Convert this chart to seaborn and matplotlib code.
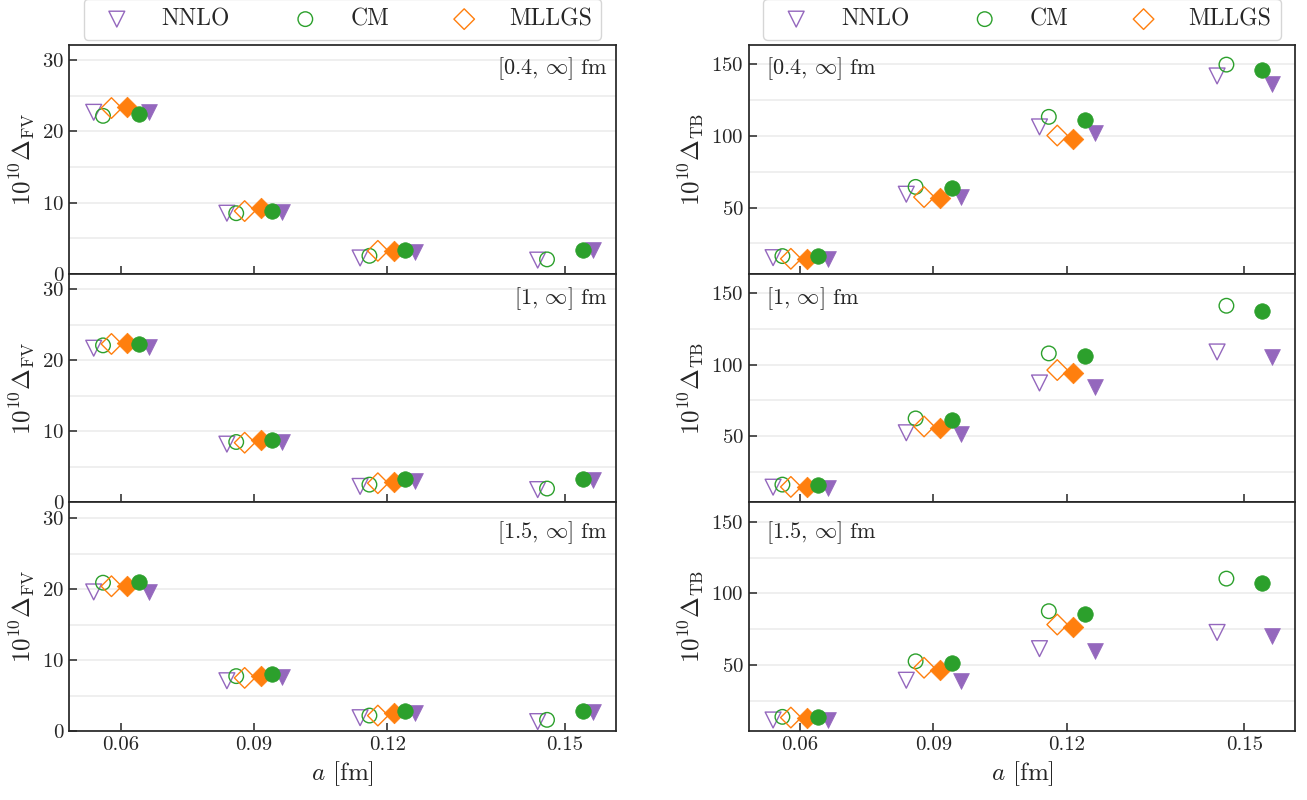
import numpy as np
import pandas as pd
import seaborn as sns
import matplotlib.pyplot as plt

# cluster positions on the a axis and their tick labels
a_pos = [0.06, 0.09, 0.12, 0.16]
a_labels = ["0.06", "0.09", "0.12", "0.15"]
range_labels = [r"[0.4, $\infty$] fm", r"[1, $\infty$] fm", r"[1.5, $\infty$] fm"]

nan = np.nan
# rows: [0.4, inf], [1, inf], [1.5, inf] ; columns: a clusters
fv_nnlo_open = [[22.7, 8.5, 2.2, 1.9], [21.7, 8.2, 2.25, 1.8], [19.6, 7.1, 1.9, 1.35]]
fv_cm_open = [[22.2, 8.5, 2.5, 2.0], [22.1, 8.5, 2.5, 1.95], [20.9, 7.75, 2.2, 1.6]]
fv_mllgs_open = [[23.3, 8.8, 3.2, nan], [22.3, 8.4, 2.7, nan], [20.4, 7.5, 2.2, nan]]
fv_mllgs_fill = [[23.5, 9.3, 3.2, nan], [22.4, 8.8, 2.9, nan], [20.4, 7.8, 2.5, nan]]
fv_cm_fill = [[22.4, 8.8, 3.3, 3.3], [22.3, 8.8, 3.3, 3.3], [21.0, 8.1, 2.9, 2.9]]
fv_nnlo_fill = [[22.7, 8.7, 3.0, 3.3], [21.8, 8.5, 3.0, 3.2], [19.6, 7.6, 2.6, 2.7]]

tb_nnlo_open = [[15.1, 59.3, 106.2, 141.7], [14.6, 52.5, 87.2, 108.8], [11.8, 39.5, 61.5, 72.8]]
tb_cm_open = [[16.2, 64.4, 113.2, 149.6], [16.4, 62.5, 107.8, 141.0], [14.0, 52.7, 87.6, 110.3]]
tb_mllgs_open = [[14.3, 57.3, 100.2, nan], [14.8, 56.9, 96.2, nan], [13.5, 48.2, 78.3, nan]]
tb_mllgs_fill = [[14.3, 56.9, 98.0, nan], [14.8, 56.1, 94.2, nan], [13.1, 46.8, 76.6, nan]]
tb_cm_fill = [[16.3, 63.3, 110.7, 146.0], [16.2, 61.6, 105.9, 137.6], [13.8, 51.8, 85.5, 107.5]]
tb_nnlo_fill = [[14.3, 57.4, 101.8, 135.8], [14.0, 51.5, 84.6, 105.3], [12.0, 38.7, 59.8, 70.5]]

purple, green, orange = "#9467bd", "#2ca02c", "#ff7f0e"

sns.set_style("ticks")
plt.rcParams["font.family"] = "serif"
plt.rcParams["font.serif"] = ["cmr10"]
plt.rcParams["mathtext.fontset"] = "cm"
plt.rcParams["axes.formatter.use_mathtext"] = True
plt.rcParams["axes.unicode_minus"] = False

# (label, marker, color, filled, x offset, size)
styles = [
    ("NNLO", "v", purple, False, -0.0061, 130),
    ("CM", "o", green, False, -0.0040, 110),
    ("MLLGS", "D", orange, False, -0.0021, 110),
    (None, "v", purple, True, 0.0063, 130),
    (None, "D", orange, True, 0.0015, 110),
    (None, "o", green, True, 0.0041, 125),
]
fv_sets = [fv_nnlo_open, fv_cm_open, fv_mllgs_open, fv_nnlo_fill, fv_mllgs_fill, fv_cm_fill]
tb_sets = [tb_nnlo_open, tb_cm_open, tb_mllgs_open, tb_nnlo_fill, tb_mllgs_fill, tb_cm_fill]

fig, axes = plt.subplots(3, 2, figsize=(13.07, 8), dpi=100, sharex=True, sharey="col")
fig.subplots_adjust(left=0.053, right=0.991, top=0.944, bottom=0.086, wspace=0.243, hspace=0)

for col, (sets, ylab) in enumerate([(fv_sets, r"$10^{10}\Delta_{\mathrm{FV}}$"),
                                     (tb_sets, r"$10^{10}\Delta_{\mathrm{TB}}$")]):
    for row in range(3):
        ax = axes[row, col]
        for (lab, mk, c, filled, dx, s), vals in zip(styles, sets):
            df = pd.DataFrame({"a": np.array(a_pos) + dx, "y": vals[row]})
            if filled:
                sns.scatterplot(data=df, x="a", y="y", ax=ax, marker=mk, s=s,
                                color=c, edgecolor=c, linewidth=0.5, zorder=3)
            else:
                sns.scatterplot(data=df, x="a", y="y", ax=ax, marker=mk, s=s,
                                facecolors="none", edgecolor=c, linewidth=1.0,
                                label=lab, zorder=3)
        if ax.get_legend() is not None:
            ax.get_legend().remove()

        ax.set_ylabel(ylab, fontsize=18)
        ax.set_xlabel("")
        if col == 0:
            ax.set_ylim(0, 32.2)
            ax.set_yticks([0, 10, 20, 30])
            ax.set_yticks(np.arange(0, 35, 5), minor=True)
            ax.text(0.985, [0.955, 0.948, 0.925][row], range_labels[row], transform=ax.transAxes,
                    ha="right", va="top", fontsize=16)
        else:
            ax.set_ylim(4, 163.4)
            ax.set_yticks([50, 100, 150])
            ax.set_yticks(np.arange(25, 175, 25), minor=True)
            ax.text(0.032, [0.955, 0.948, 0.925][row], range_labels[row], transform=ax.transAxes,
                    ha="left", va="top", fontsize=16)
        ax.set_xlim(0.0484, 0.1715)
        ax.set_xticks(a_pos)
        ax.set_xticklabels(a_labels)
        ax.yaxis.grid(True, which="both", color="#ececec", lw=1.2, zorder=0)
        ax.set_axisbelow(True)
        ax.tick_params(which="major", direction="in", length=5.5, width=1.1,
                       labelsize=15, colors="#262626")
        ax.tick_params(which="minor", length=0)
        for sp in ax.spines.values():
            sp.set_visible(True)
            sp.set_linewidth(1.25)
            sp.set_color("#262626")

    axes[2, col].set_xlabel(r"$a$ [fm]", fontsize=18)
    h, l = axes[0, col].get_legend_handles_labels()
    axes[0, col].legend(h, l, loc="lower left", bbox_to_anchor=(0.0265, 1.022, 0.947, 0.2),
                        mode="expand", ncol=3, fontsize=17, handletextpad=0.9,
                        borderaxespad=0, frameon=True)

fig.savefig("out.png", dpi=100)
